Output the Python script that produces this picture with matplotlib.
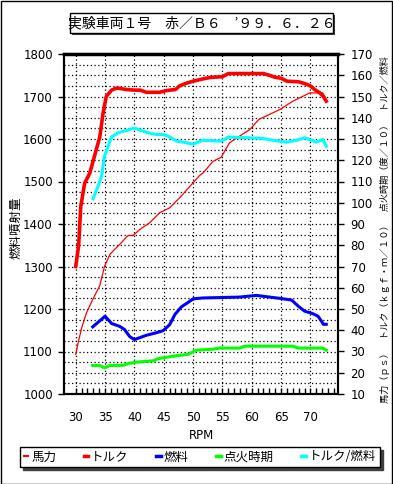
import matplotlib
matplotlib.use("Agg")
import matplotlib.pyplot as plt
from matplotlib.ticker import MultipleLocator, FixedLocator
from matplotlib.patches import Rectangle
from matplotlib.lines import Line2D

plt.rcParams['font.family'] = ['Noto Sans CJK JP', 'DejaVu Sans']

# 馬力 (右軸)
hp_rpm = [30.0, 30.4, 31.0, 31.8, 32.9, 34.1, 34.9, 35.8, 36.6, 37.5, 38.9, 39.8, 40.9, 42.6,
          44.3, 46.0, 47.7, 50.0, 51.1, 51.7, 53.4, 54.8, 56.2, 57.9, 59.7, 61.2, 64.8, 67.0,
          69.9, 72.1, 72.7]
hp = [28.6, 34.0, 41.0, 48.0, 54.5, 61.0, 70.0, 75.6, 78.0, 80.4, 84.6, 84.6, 87.4, 90.6,
      95.3, 97.6, 102.3, 109.4, 112.8, 114.0, 119.5, 121.4, 128.2, 131.3, 134.5, 139.2, 143.9, 147.8,
      151.7, 151.7, 148.6]

# トルク (右軸)
tq_rpm = [30.0, 30.5, 30.85, 31.5, 32.4, 33.2, 34.1, 34.65, 35.2, 36.1, 37.0, 38.6, 40.0, 41.0,
          42.0, 44.3, 45.5, 47.0, 47.7, 49.0, 50.0, 51.7, 53.0, 55.0, 56.0, 62.0, 63.0, 64.0,
          65.0, 66.0, 68.0, 69.0, 70.0, 70.7, 71.6, 72.2, 72.7]
tq = [70.0, 80.0, 98.0, 109.0, 114.0, 122.0, 131.0, 142.0, 150.0, 153.0, 154.0, 153.3, 153.0, 153.0,
      152.0, 152.0, 152.8, 153.3, 155.0, 156.4, 157.2, 158.3, 159.0, 159.3, 160.8, 160.8, 160.0, 159.0,
      158.6, 157.2, 156.9, 156.1, 155.0, 153.3, 151.7, 150.0, 147.8]

# 燃料 (左軸)
fuel_rpm = [32.9, 35.0, 36.1, 37.5, 38.3, 39.2, 40.0, 42.0, 43.7, 44.9, 46.0, 46.9, 48.0, 49.1,
            50.0, 51.7, 57.9, 60.8, 62.5, 64.8, 66.8, 67.9, 69.0, 70.4, 71.3, 71.9, 72.2, 72.7]
fuel = [1158, 1183, 1166, 1159, 1152, 1135, 1128, 1138, 1144, 1149, 1163, 1187, 1205, 1215,
        1224, 1226, 1228, 1232, 1229, 1225, 1221, 1207, 1195, 1189, 1183, 1171, 1164, 1164]

# 点火時期 (右軸)
ign_rpm = [32.9, 34.1, 34.9, 35.8, 38.1, 38.9, 40.3, 43.2, 44.0, 45.5, 47.4, 49.1, 50.5, 53.4,
           54.5, 57.9, 58.8, 67.0, 67.9, 72.1, 72.7]
ign = [23.4, 23.4, 22.3, 23.4, 23.5, 24.3, 25.0, 25.6, 26.6, 27.3, 28.1, 28.6, 30.6, 31.1,
       31.6, 31.6, 32.5, 32.5, 31.6, 31.6, 30.6]

# トルク/燃料 (右軸)
tf_rpm = [32.95, 33.8, 34.4, 34.9, 36.1, 37.2, 38.6, 40.0, 42.0, 43.7, 44.9, 46.0, 47.2, 48.9,
          50.0, 51.7, 54.8, 56.0, 61.3, 62.2, 63.6, 65.9, 67.6, 69.0, 71.0, 72.1, 72.7]
tf = [101.9, 107.8, 112.5, 121.9, 131.0, 132.9, 134.0, 135.1, 133.2, 132.1, 132.1, 131.0, 129.0, 128.2,
      127.6, 129.4, 129.0, 130.9, 130.4, 130.1, 129.4, 128.5, 129.4, 130.6, 128.5, 129.8, 126.6]

x_ticks = [30, 35, 40, 45, 50, 55, 60, 65, 70]
left_ticks = [1000, 1100, 1200, 1300, 1400, 1500, 1600, 1700, 1800]
right_ticks = list(range(10, 171, 10))

W, H = 393, 484
fig = plt.figure(figsize=(W / 100, H / 100), dpi=100)
ax = fig.add_axes([64 / W, 1 - 394 / H, (338 - 64) / W, (394 - 54) / H])
ax2 = ax.twinx()

ax.set_xlim(28, 74.7)
ax.set_ylim(1000, 1800)
ax2.set_ylim(10, 170)

# グリッド
ax.xaxis.set_major_locator(FixedLocator(x_ticks))
ax.xaxis.set_minor_locator(FixedLocator(list(range(30, 75))))
ax.yaxis.set_major_locator(FixedLocator(left_ticks))
ax.yaxis.set_minor_locator(MultipleLocator(25))
ax.grid(True, which='both', axis='y', linestyle=(0, (1, 2)), color='black', linewidth=0.9)
ax.grid(True, which='major', axis='x', linestyle=(0, (1, 2)), color='black', linewidth=0.9)
ax.set_axisbelow(True)

ax.plot(fuel_rpm, fuel, color='#0000ff', linewidth=2.2, zorder=3)
ax2.plot(hp_rpm, hp, color='#ff0000', linewidth=0.9)
ax2.plot(tq_rpm, tq, color='#ff0000', linewidth=2.6)
ax2.plot(ign_rpm, ign, color='#00ff00', linewidth=2.2)
ax2.plot(tf_rpm, tf, color='#00ffff', linewidth=2.2)

tick_font = dict(family='Liberation Sans Narrow', size=8.5)
ax.set_xticks(x_ticks)
ax.set_xticklabels([str(v) for v in x_ticks], **tick_font)
ax.set_yticks(left_ticks)
ax.set_yticklabels([str(v) for v in left_ticks], **tick_font)
ax2.yaxis.set_major_locator(FixedLocator(right_ticks))
ax2.set_yticklabels([str(v) for v in right_ticks], **tick_font)

ax.tick_params(axis='x', which='both', direction='in', length=4, width=1, pad=12)
ax.tick_params(axis='y', which='major', direction='out', length=4, width=1, pad=4)
ax.tick_params(axis='y', which='minor', length=0)
ax2.tick_params(axis='y', direction='out', length=4, width=1, pad=5)

for a in (ax, ax2):
    for s in a.spines.values():
        s.set_linewidth(1.5)
ax2.spines['top'].set_linewidth(2.5)

ax.set_xlabel('RPM', fontsize=8.5, family='Liberation Sans Narrow', labelpad=4)
fig.text(16 / W, 1 - 228 / H, '燃料噴射量', rotation=90, ha='center', va='center', fontsize=9)
fig.text(385 / W, 1 - 230 / H,
         '馬力（ｐｓ）　トルク（ｋｇｆ・ｍ／１０）　点火時期（度／１０）　トルク／燃料',
         rotation=90, ha='center', va='center', fontsize=6.6)

# タイトル枠
fig.patches.append(Rectangle((72 / W, 1 - 35 / H), 263 / W, 20 / H, transform=fig.transFigure,
                             facecolor='#404040', edgecolor='none', zorder=1))
fig.patches.append(Rectangle((70 / W, 1 - 33 / H), 263 / W, 20 / H, transform=fig.transFigure,
                             facecolor='white', edgecolor='black', linewidth=1, zorder=2))
fig.text(201.5 / W, 1 - 23 / H, '実験車両１号　赤／Ｂ６　’９９．６．２６',
         ha='center', va='center', fontsize=10, zorder=3)

# 凡例
handles = [Line2D([], [], color='#ff0000', linewidth=1.5),
           Line2D([], [], color='#ff0000', linewidth=2.5),
           Line2D([], [], color='#0000ff', linewidth=2.5),
           Line2D([], [], color='#00ff00', linewidth=2.5),
           Line2D([], [], color='#00ffff', linewidth=2.5)]
labels = ['馬力', 'トルク', '燃料', '点火時期', 'トルク/燃料']
leg = fig.legend(handles, labels, loc='center', bbox_to_anchor=(200 / W, 1 - 457 / H), ncol=5,
                 fontsize=9, handlelength=0.35, handletextpad=0.25, columnspacing=2.2,
                 frameon=True, fancybox=False, shadow={'color': '#404040', 'alpha': 1},
                 borderpad=0.3, edgecolor='black', borderaxespad=0)
leg.get_frame().set_linewidth(1)

# 外枠
fig.patches.append(Rectangle((0.5 / W, 0.5 / H), (W - 1.5) / W, (H - 1.5) / H, transform=fig.transFigure,
                             facecolor='none', edgecolor='black', linewidth=1))

fig.savefig('out.png', dpi=100)
